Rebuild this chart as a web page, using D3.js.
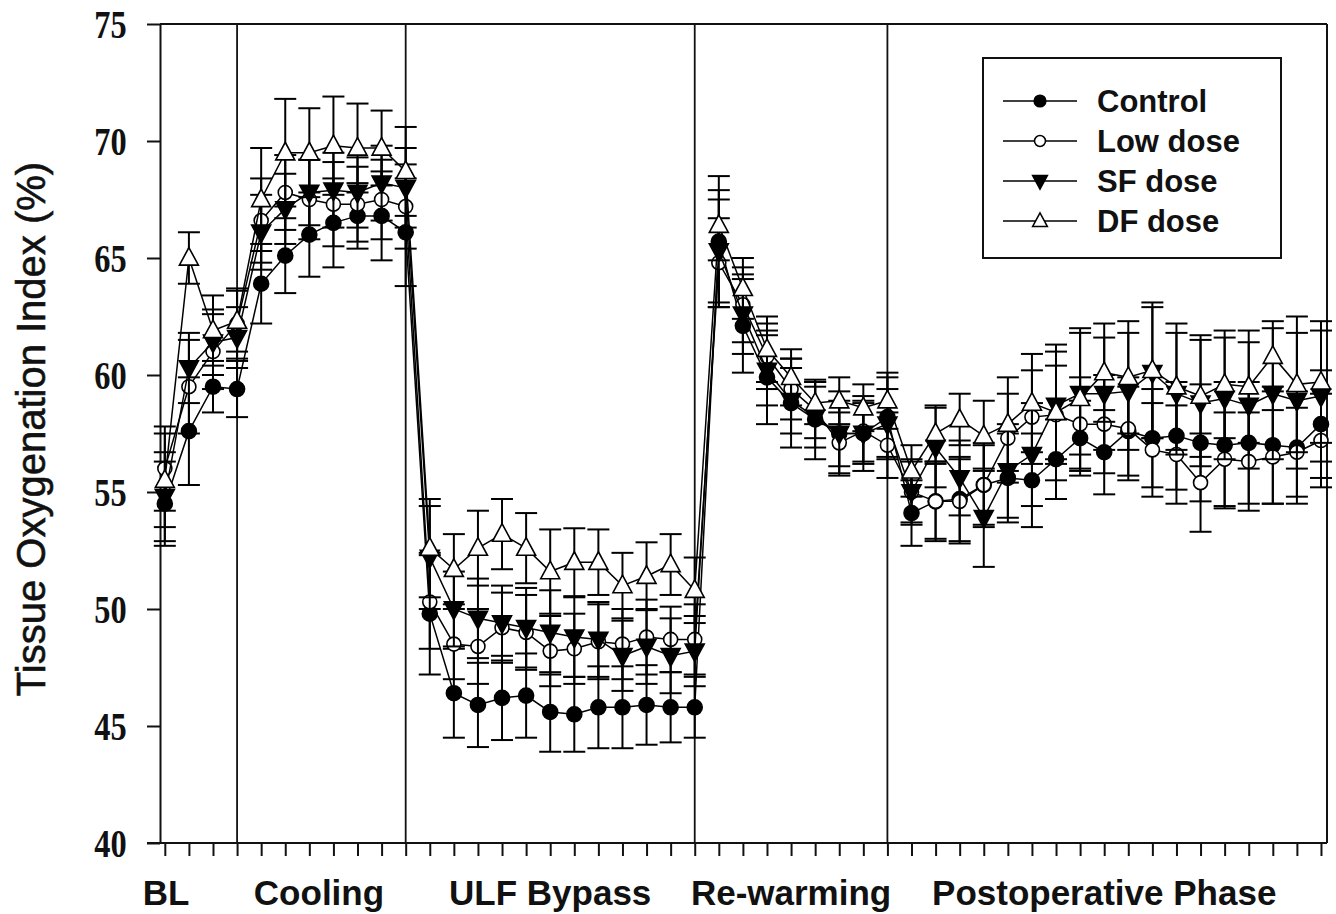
<!DOCTYPE html>
<html><head><meta charset="utf-8">
<script src="https://cdn.jsdelivr.net/npm/d3@7"></script>
<style>body{margin:0;background:#fff}svg{display:block}</style>
</head><body><svg id="chart" width="1336" height="914"></svg>
<script>
// ---------------- data ----------------
const phases = ["BL", "Cooling", "ULF Bypass", "Re-warming", "Postoperative Phase"];
const phaseDividers = [3, 10, 22, 30];           // time-point index where each phase ends
const yTicks = [40, 45, 50, 55, 60, 65, 70, 75];
const seriesNames = ["Control", "Low dose", "SF dose", "DF dose"];

const control = [54.5, 57.6, 59.5, 59.4,
  63.9, 65.1, 66.0, 66.5, 66.8, 66.8, 66.1,
  49.8, 46.4, 45.9, 46.2, 46.3, 45.6, 45.5, 45.8, 45.8, 45.9, 45.8, 45.8,
  65.7, 62.1, 59.9, 58.8, 58.1, 57.5, 57.5, 58.2,
  54.1, 54.6, 54.7, 55.3, 55.6, 55.5, 56.4, 57.3, 56.7, 57.6, 57.3, 57.4, 57.1, 57.0, 57.1, 57.0, 56.9, 57.9];
const controlSE = [1.8, 2.3, 1.1, 1.2,
  1.7, 1.6, 1.8, 1.9, 1.4, 1.9, 2.3,
  2.6, 1.9, 1.8, 1.8, 1.8, 1.7, 1.6, 1.75, 1.75, 1.7, 1.5, 1.3,
  2.8, 2.0, 2.0, 1.9, 1.7, 1.8, 1.6, 1.7,
  1.4, 1.6, 1.8, 1.7, 1.9, 2.0, 1.7, 1.6, 1.8, 1.9, 2.1, 2.3, 2.5, 2.7, 2.6, 2.5, 2.4, 2.3];

const lowDose = [56.0, 59.5, 61.0, 62.2,
  66.6, 67.8, 67.5, 67.3, 67.3, 67.5, 67.2,
  50.3, 48.5, 48.4, 49.2, 49.0, 48.2, 48.3, 48.6, 48.5, 48.8, 48.7, 48.7,
  64.8, 63.0, 60.8, 59.4, 58.5, 57.1, 57.6, 57.0,
  55.0, 54.6, 54.6, 55.3, 57.3, 58.2, 58.3, 57.9, 57.9, 57.7, 56.8, 56.6, 55.4, 56.4, 56.3, 56.5, 56.7, 57.2];
const lowDoseSE = [1.8, 2.0, 1.6, 1.5,
  1.8, 1.6, 1.7, 1.8, 1.6, 1.7, 1.8,
  2.0, 1.5, 1.6, 1.5, 1.6, 1.5, 1.5, 1.6, 1.5, 1.6, 1.4, 1.5,
  1.9, 1.6, 1.4, 1.3, 1.2, 1.3, 1.3, 1.4,
  1.4, 1.7, 1.8, 1.8, 1.9, 2.0, 2.1, 2.0, 2.1, 2.2, 2.0, 2.1, 2.1, 2.0, 2.1, 2.0, 1.9, 2.0];

const sfDose = [54.8, 60.3, 61.4, 61.6,
  66.1, 67.1, 67.8, 67.9, 67.8, 68.2, 68.0,
  52.2, 50.0, 49.6, 49.4, 49.2, 49.0, 48.8, 48.7, 48.0, 48.4, 48.0, 48.2,
  65.3, 62.6, 60.2, 58.9, 58.2, 57.5, 57.5, 57.9,
  55.0, 56.9, 55.6, 53.9, 55.9, 56.6, 58.7, 59.2, 59.2, 59.3, 60.1, 59.2, 58.8, 59.0, 58.7, 59.2, 58.9, 59.1];
const sfDoseSE = [1.9, 1.5, 1.4, 1.3,
  1.6, 1.5, 1.4, 1.6, 1.5, 1.6, 1.7,
  2.2, 1.6, 1.7, 1.6, 1.7, 1.8, 1.7, 1.6, 1.5, 1.6, 1.6, 1.5,
  2.2, 1.7, 1.5, 1.4, 1.3, 1.4, 1.3, 1.5,
  1.3, 1.7, 1.6, 2.1, 2.0, 2.2, 2.3, 2.6, 2.4, 2.5, 2.8, 2.6, 2.7, 2.6, 2.7, 2.8, 2.9, 2.8];

const dfDose = [55.5, 65.0, 61.9, 62.3,
  67.5, 69.5, 69.5, 69.8, 69.7, 69.7, 68.7,
  52.6, 51.7, 52.6, 53.2, 52.6, 51.6, 52.0, 52.0, 51.0, 51.4, 51.9, 50.8,
  66.4, 63.7, 61.1, 59.9, 58.8, 58.9, 58.6, 58.9,
  55.9, 57.5, 58.1, 57.4, 57.9, 58.8, 58.4, 59.0, 60.1, 59.9, 60.2, 59.5, 59.1, 59.6, 59.5, 60.8, 59.6, 59.7];
const dfDoseSE = [2.0, 1.1, 1.5, 1.3,
  2.2, 2.3, 1.9, 2.1, 1.9, 1.6, 1.9,
  2.1, 1.5, 1.6, 1.5, 1.5, 1.8, 1.45, 1.4, 1.4, 1.45, 1.3, 1.4,
  1.5, 1.3, 1.4, 1.2, 0.9, 1.0, 1.0, 1.2,
  1.1, 1.2, 1.1, 1.5, 2.0, 2.1, 2.9, 3.0, 2.1, 2.4, 2.9, 2.7, 2.6, 2.3, 2.4, 1.5, 2.9, 2.6];

// ---------------- layout ----------------
const W = 1336, H = 914;
const plot = {left: 160, right: 1327, top: 24, bottom: 843};
const phaseLabelAt = [0.05, 6.4, 16, 26, 39];
const ink = "#111";

const svg = d3.select("#chart");
svg.append("rect").attr("width", W).attr("height", H).attr("fill", "#fff");

const x = d3.scaleLinear().domain([-0.2, 48.25]).range([plot.left, plot.right]);
const y = d3.scaleLinear().domain([40, 75]).range([plot.bottom, plot.top]);
const nPts = control.length;
const idx = d3.range(nPts);

// frame & dividers
const g = svg.append("g");
g.append("line").attr("x1", plot.left).attr("x2", plot.right).attr("y1", plot.top).attr("y2", plot.top)
  .attr("stroke", ink).attr("stroke-width", 2);
g.append("line").attr("x1", plot.right).attr("x2", plot.right).attr("y1", plot.top).attr("y2", plot.bottom)
  .attr("stroke", ink).attr("stroke-width", 2);
g.selectAll(".div").data(phaseDividers).join("line")
  .attr("x1", d => x(d)).attr("x2", d => x(d)).attr("y1", plot.top).attr("y2", plot.bottom)
  .attr("stroke", ink).attr("stroke-width", 1.8);

// y axis
const yAxis = svg.append("g").attr("transform", `translate(${plot.left},0)`)
  .call(d3.axisLeft(y).tickValues(yTicks).tickSize(13).tickSizeOuter(0));
yAxis.select(".domain").attr("stroke", ink).attr("stroke-width", 2);
yAxis.selectAll(".tick line").attr("stroke", ink).attr("stroke-width", 2);
yAxis.selectAll(".tick text")
  .attr("font-family", "'Liberation Serif', 'Times New Roman', serif")
  .attr("font-weight", "bold").attr("font-size", 36).attr("fill", ink)
  .attr("x", -37).attr("dy", "0.34em")
  .attr("transform", "scale(0.9,1.14)");

// x axis
const xAxis = svg.append("g").attr("transform", `translate(0,${plot.bottom})`)
  .call(d3.axisBottom(x).tickValues(idx).tickSize(13).tickSizeOuter(0).tickFormat(""));
xAxis.select(".domain").remove();
xAxis.selectAll(".tick line").attr("stroke", ink).attr("stroke-width", 2);
svg.append("line").attr("x1", plot.left - 13).attr("x2", plot.right)
  .attr("y1", plot.bottom).attr("y2", plot.bottom).attr("stroke", ink).attr("stroke-width", 2);

svg.selectAll(".phase").data(phases).join("text")
  .attr("x", (d, i) => x(phaseLabelAt[i])).attr("y", 905)
  .attr("text-anchor", "middle")
  .attr("font-family", "'Liberation Sans', Arial, sans-serif").attr("font-weight", "bold")
  .attr("font-size", 35).attr("fill", ink).text(d => d);

svg.append("text").attr("transform", "translate(45,429) rotate(-90)")
  .attr("text-anchor", "middle")
  .attr("font-family", "'Liberation Sans', Arial, sans-serif")
  .attr("font-size", 40).attr("fill", ink)
  .attr("stroke", ink).attr("stroke-width", 0.6)
  .text("Tissue Oxygenation Index (%)");

// ---------------- series ----------------
const shapes = {
  circle: r => `M${-r},0A${r},${r} 0 1,0 ${r},0A${r},${r} 0 1,0 ${-r},0Z`,
  up: s => `M0,${-1.1 * s}L${s},${0.75 * s}L${-s},${0.75 * s}Z`,
  down: s => `M0,${1.1 * s}L${s},${-0.75 * s}L${-s},${-0.75 * s}Z`
};
const series = [
  {name: seriesNames[0], v: control, se: controlSE, shape: "circle", size: 7.5, fill: "#000"},
  {name: seriesNames[1], v: lowDose, se: lowDoseSE, shape: "circle", size: 7, fill: "#fff"},
  {name: seriesNames[2], v: sfDose, se: sfDoseSE, shape: "down", size: 9.5, fill: "#000"},
  {name: seriesNames[3], v: dfDose, se: dfDoseSE, shape: "up", size: 9.5, fill: "#fff"}
];
const line = d3.line().x(d => x(d.i)).y(d => y(d.v));
const cap = 11;

series.forEach(s => {
  const pts = idx.map(i => ({i, v: s.v[i], e: s.se[i]}));
  const sg = svg.append("g");
  sg.append("path").datum(pts).attr("d", line).attr("fill", "none")
    .attr("stroke", "#000").attr("stroke-width", 1.5);
  const eb = sg.selectAll(".eb").data(pts).join("g");
  eb.append("line").attr("x1", d => x(d.i)).attr("x2", d => x(d.i))
    .attr("y1", d => y(d.v - d.e)).attr("y2", d => y(d.v + d.e))
    .attr("stroke", "#000").attr("stroke-width", 2);
  [1, -1].forEach(sgn => {
    eb.append("line").attr("x1", d => x(d.i) - cap).attr("x2", d => x(d.i) + cap)
      .attr("y1", d => y(d.v + sgn * d.e)).attr("y2", d => y(d.v + sgn * d.e))
      .attr("stroke", "#000").attr("stroke-width", 2);
  });
  sg.selectAll(".mk").data(pts).join("path")
    .attr("transform", d => `translate(${x(d.i)},${y(d.v)})`)
    .attr("d", shapes[s.shape](s.size))
    .attr("fill", s.fill).attr("stroke", "#000").attr("stroke-width", 1.6);
});

// ---------------- legend ----------------
const leg = {x: 983, y: 58, w: 298, h: 200, row0: 101, dy: 40};
svg.append("rect").attr("x", leg.x).attr("y", leg.y).attr("width", leg.w).attr("height", leg.h)
  .attr("fill", "#fff").attr("stroke", ink).attr("stroke-width", 2);
const lg = svg.selectAll(".lg").data(series).join("g")
  .attr("transform", (d, i) => `translate(0,${leg.row0 + i * leg.dy})`);
lg.append("line").attr("x1", leg.x + 20).attr("x2", leg.x + 94).attr("y1", 0).attr("y2", 0)
  .attr("stroke", "#000").attr("stroke-width", 1.5);
lg.append("path").attr("transform", `translate(${leg.x + 57},0)`)
  .attr("d", d => shapes[d.shape](d.size * 0.78))
  .attr("fill", d => d.fill).attr("stroke", "#000").attr("stroke-width", 1.5);
lg.append("text").attr("x", leg.x + 114).attr("y", 11)
  .attr("font-family", "'Liberation Sans', Arial, sans-serif").attr("font-weight", "bold")
  .attr("font-size", 31).attr("fill", ink).text(d => d.name);
</script></body></html>
